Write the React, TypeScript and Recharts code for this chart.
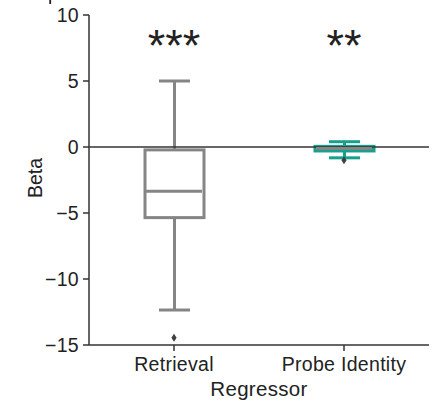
import {
  ComposedChart,
  Bar,
  Scatter,
  XAxis,
  YAxis,
  ReferenceLine,
  ReferenceDot,
} from "recharts";

// box plot summary per regressor
const categories = ["Retrieval", "Probe Identity"];
const whiskerLow = [-12.35, -0.82];
const quartile1 = [-5.35, -0.3];
const medians = [-3.35, -0.12];
const quartile3 = [-0.22, 0.05];
const whiskerHigh = [5.0, 0.4];
const outliers = [-14.45, -1.0];
const stars = ["***", "**"];
const yTicks = [-15, -10, -5, 0, 5, 10];
const STAR_LEVEL = 6.5;

const GRAY = "#858585";
const TEAL = "#17a08c";
const DARK = "#333333";
const TEXT = "#222222";
const FONT = "'Liberation Sans', Arial, sans-serif";
const BOX_W = 59;
const CAP_W = 31;

const STYLE: Record<string, { line: string; fill: string; median: string }> = {
  Retrieval: { line: GRAY, fill: "#ffffff", median: GRAY },
  "Probe Identity": { line: TEAL, fill: TEAL, median: GRAY },
};

const data = categories.map((name, i) => ({
  name,
  whisker: [whiskerLow[i], whiskerHigh[i]],
  box: [quartile1[i], quartile3[i]],
  median: medians[i],
  outlier: outliers[i],
}));

function WhiskerShape(props: any) {
  const { x, y, width, height, payload } = props;
  const s = STYLE[payload.name];
  const top = Math.min(y, y + height);
  const bottom = Math.max(y, y + height);
  const cx = x + width / 2;
  return (
    <g stroke={s.line} strokeWidth={3} fill="none">
      <line x1={cx} x2={cx} y1={top} y2={bottom} />
      <line x1={x} x2={x + width} y1={top} y2={top} />
      <line x1={x} x2={x + width} y1={bottom} y2={bottom} />
    </g>
  );
}

function BoxShape(props: any) {
  const { x, y, width, height, payload } = props;
  const s = STYLE[payload.name];
  const top = Math.min(y, y + height);
  return (
    <rect
      x={x}
      y={top}
      width={width}
      height={Math.abs(height)}
      fill={s.fill}
      stroke={s.line}
      strokeWidth={3}
    />
  );
}

function MedianShape(props: any) {
  const { cx, cy, payload } = props;
  const s = STYLE[payload.name];
  return (
    <line
      x1={cx - BOX_W / 2 + 1.5}
      x2={cx + BOX_W / 2 - 1.5}
      y1={cy}
      y2={cy}
      stroke={s.median}
      strokeWidth={3}
    />
  );
}

function OutlierShape(props: any) {
  const { cx, cy } = props;
  return (
    <polygon
      points={`${cx},${cy - 4} ${cx + 2.6},${cy} ${cx},${cy + 4} ${cx - 2.6},${cy}`}
      fill="#404040"
    />
  );
}

const renderStars = (props: any) => {
  const { viewBox, value } = props;
  const cx = viewBox.x + viewBox.width / 2;
  const cy = viewBox.y + viewBox.height / 2;
  return (
    <text x={cx} y={cy} textAnchor="middle" fontSize={45} fontFamily={FONT} fill={TEXT}>
      {value}
    </text>
  );
};

const renderBeta = (props: any) => {
  const { viewBox } = props;
  const lx = viewBox.x + 41.5;
  const ly = viewBox.y + viewBox.height / 2 - 2;
  return (
    <text
      x={lx}
      y={ly}
      transform={`rotate(-90, ${lx}, ${ly})`}
      textAnchor="middle"
      fontSize={19.5}
      fontFamily={FONT}
      fill={TEXT}
    >
      Beta
    </text>
  );
};

const minus = (v: number) => String(v).replace("-", "\u2212");

export default function App() {
  return (
    <div style={{ position: "absolute", left: 0, top: 0, width: 432, height: 401, background: "#fff" }}>
      {/* clipped stem of a panel letter above the plot */}
      <svg
        width={432}
        height={10}
        style={{ position: "absolute", left: 0, top: 0, pointerEvents: "none" }}
      >
        <rect x={49.3} y={0} width={1.8} height={4} fill={TEXT} />
      </svg>
      <ComposedChart
        width={432}
        height={401}
        data={data}
        margin={{ top: 15, right: 3, bottom: 0, left: 0 }}
      >
        <XAxis
          dataKey="name"
          height={56}
          interval={0}
          tickSize={6}
          tickMargin={6}
          axisLine={{ stroke: DARK, strokeWidth: 1.5 }}
          tickLine={{ stroke: DARK, strokeWidth: 1.5 }}
          tick={{ fill: TEXT, fontSize: 19.5, fontFamily: FONT, letterSpacing: 0.3 }}
          label={{
            value: "Regressor",
            position: "insideBottom",
            offset: 5,
            fill: TEXT,
            fontSize: 20.5,
            fontFamily: FONT,
            letterSpacing: 0.3,
          }}
        />
        <XAxis xAxisId="w" dataKey="name" hide />
        <XAxis xAxisId="b" dataKey="name" hide />
        <YAxis
          type="number"
          domain={[-15, 10]}
          ticks={yTicks}
          interval={0}
          width={89}
          tickSize={6}
          tickMargin={4}
          allowDataOverflow
          axisLine={{ stroke: DARK, strokeWidth: 1.5 }}
          tickLine={{ stroke: DARK, strokeWidth: 1.5 }}
          tick={{ fill: TEXT, fontSize: 19.5, fontFamily: FONT, letterSpacing: 0.3 }}
          tickFormatter={minus}
          label={{ content: renderBeta }}
        />
        <Bar
          xAxisId="w"
          dataKey="whisker"
          barSize={CAP_W}
          shape={<WhiskerShape />}
          isAnimationActive={false}
        />
        <Bar
          xAxisId="b"
          dataKey="box"
          barSize={BOX_W}
          shape={<BoxShape />}
          isAnimationActive={false}
        />
        <ReferenceLine y={0} stroke={DARK} strokeWidth={1.5} />
        <Scatter dataKey="median" shape={<MedianShape />} isAnimationActive={false} />
        <Scatter dataKey="outlier" shape={<OutlierShape />} isAnimationActive={false} />
        {categories.map((c, i) => (
          <ReferenceDot
            key={c}
            x={c}
            y={STAR_LEVEL}
            r={0}
            fill="none"
            stroke="none"
            ifOverflow="visible"
            label={{ value: stars[i], content: renderStars }}
          />
        ))}
      </ComposedChart>
    </div>
  );
}
